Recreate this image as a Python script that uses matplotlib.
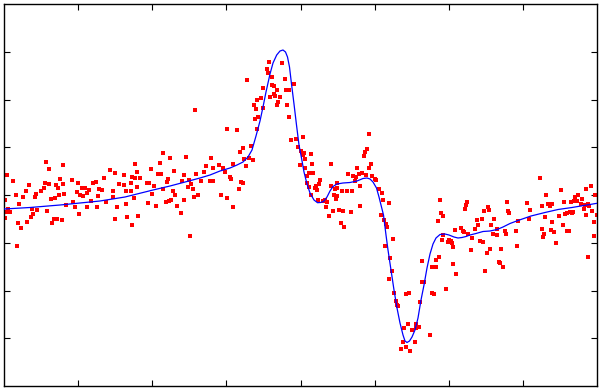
import numpy as np
import matplotlib
matplotlib.use("Agg")
import matplotlib.pyplot as plt

# scattered measurements (x, y)
pts_x = [42, 59, 3, 45, 9, 106, 111, 100, 56, 68, 41, 45, 25, 52, 59, 74, 89, 92, 115, 40, 54, 78, 81, 22, 37, 85, 95, 98,
         12, 32, 60, 55, 73, 76, 83, 79, 31, 19, 109, 94, 47, 51, 109, 1, 87, 102, 69, 15, 62, 71, 83, 93, 113, 4, 28, 33,
         43, 2, 6, 29, 75, 27, 1, 111, 50, 53, 58, 48, 14, 23, 17, 13,
         191, 223, 159, 166, 182, 207, 131, 156, 202, 215, 147, 170, 209, 219, 133, 120, 154, 157, 180, 192, 200, 221,
         128, 131, 136, 164, 178, 185, 197, 206, 209, 143, 145, 163, 127, 187, 120, 133, 150, 159, 184, 189, 122, 127,
         148, 169, 171, 194, 217, 190, 223, 130, 167, 165, 162, 180, 144, 122, 152, 173, 177, 123, 134, 128, 186,
         278, 265, 263, 264, 268, 243, 281, 268, 270, 259, 290, 273, 282, 285, 270, 271, 276, 257, 253, 266, 274, 250,
         273, 259, 252, 283, 285, 254, 251, 253, 233, 287, 292, 299, 247, 239, 294, 236, 297, 300, 299, 307, 245, 240,
         249, 301, 229, 308, 296, 242, 301, 305, 309, 303, 226, 227, 237, 239, 303, 315, 312, 305, 235, 311, 313, 307,
         314, 229,
         365, 363, 361, 360, 327, 367, 365, 353, 344, 349, 355, 358, 362, 368, 352, 316, 333, 371, 372, 351, 327, 356,
         331, 333, 375, 343, 338, 348, 378, 330, 333, 332, 321, 319, 323, 379, 385, 356, 322, 329, 335, 339, 347, 325,
         377, 380, 337, 340, 382, 383, 389, 381,
         386, 435, 432, 418, 428, 432, 388, 385, 418, 420, 390, 402, 405, 428, 430, 392, 416, 393, 394, 404, 400, 408,
         412, 414, 412, 415, 426, 399, 411, 402, 397, 406,
         436, 463, 462, 461, 484, 485, 437, 439, 480, 434, 473, 478, 490, 474, 487, 457, 459, 451, 471, 493, 460, 464,
         489, 493, 502, 439, 438, 445, 447, 444, 448, 476, 479, 468, 449, 467, 486, 497, 483, 449, 495, 496, 499, 452,
         481, 442,
         536, 587, 582, 557, 542, 591, 571, 574, 578, 503, 523, 544, 548, 538, 560, 567, 570, 573, 577, 581, 584, 585,
         546, 504, 505, 526, 563, 566, 568, 569, 580, 588, 561, 555, 582, 593, 525, 541, 514, 548, 590, 559, 538, 547,
         563, 565, 501, 512, 550, 540, 539, 590, 552, 513, 584]
pts_y = [33, 30, 20, 26, 14, 25, 22, 17, 16, 15, 12, 11, 10, 10, 11, 12, 12, 13, 11, 7, 7, 7, 7, 4, 4, 5, 6, 5,
         0, 1, 1, 0, 3, 0, 2, -1, -2, -2, 4, -1, -4, -3, -2, -5, -6, -7, -7, -9, -10, -12, -12, -12, -12, -14, -14, -15,
         -16, -17, -17, -19, -19, -22, -23, -24, -24, -24, -25, -28, -28, -27, -33, -51,
         85, 66, 42, 37, 38, 37, 31, 32, 29, 30, 26, 24, 27, 27, 23, 20, 21, 21, 20, 21, 23, 23,
         18, 17, 17, 16, 14, 15, 14, 14, 14, 12, 12, 13, 12, 11, 10, 8, 9, 6, 8, 6, 4, 4,
         1, 4, 0, 0, 0, -2, -3, -3, -5, -6, -7, -5, -8, -9, -11, -11, -18, -22, -21, -30, -41,
         132, 133, 126, 122, 118, 115, 116, 110, 109, 107, 111, 105, 105, 105, 101, 99, 98, 97, 95, 98, 93, 90,
         90, 87, 86, 90, 78, 78, 76, 66, 65, 55, 56, 58, 49, 47, 48, 43, 44, 42, 40, 41, 37, 36,
         35, 36, 31, 31, 30, 29, 27, 22, 22, 19, 18, 16, 13, 12, 12, 11, 9, 8, 6, 7, 5, 0,
         -5, -12,
         61, 46, 43, 39, 31, 31, 27, 27, 21, 19, 21, 22, 20, 19, 18, 15, 12, 16, 15, 14, 9, 9,
         6, 7, 6, 4, 4, 4, 2, 0, -1, -4, -5, -6, -7, -5, -8, -11, -12, -16, -15, -16, -17, -21,
         -20, -25, -28, -32, -29, -32, -44, -51,
         -63, -62, -65, -66, -72, -72, -76, -84, -87, -87, -98, -99, -98, -98, -99, -106, -107, -110, -111, -129, -133, -135,
         -129, -132, -133, -132, -140, -147, -147, -152, -154, -156,
         -5, -7, -10, -14, -12, -15, -18, -21, -16, -26, -25, -24, -24, -30, -30, -33, -36, -35, -34, -34, -37, -39,
         -39, -40, -39, -40, -45, -45, -46, -47, -48, -46, -47, -43, -52, -55, -54, -54, -58, -69, -67, -68, -72, -79,
         -76, -94,
         17, 9, 6, 5, 0, 0, -2, 0, -4, -7, -8, -9, -9, -11, -7, -7, -6, -6, -9, -10, -9, -11,
         -11, -16, -18, -15, -18, -17, -18, -17, -14, -16, -19, -21, -20, -20, -24, -22, -26, -27, -27, -30, -34, -35,
         -36, -36, -36, -36, -37, -39, -42, -41, -48, -51, -62]

# fitted curve
fit_x = [0, 26, 56, 96, 121, 149, 166, 183, 196, 206, 216, 226, 233, 239, 244, 248, 252, 256, 259, 262, 266, 269,
         272.7, 276, 279, 281.5, 283.5, 285.5, 287.5, 290, 292.5, 295, 297.5, 300, 303, 306, 310, 313.5, 316.5, 319.5,
         323, 326, 329, 333, 339, 346, 353, 359, 363, 366, 369, 372.5, 375, 377, 379.5, 382, 384, 387, 390, 393, 396,
         399, 401, 403, 405.5, 408, 411, 414, 417, 420, 423, 426, 429, 432, 436, 441, 445, 450, 454, 458, 462, 466, 472,
         479, 486, 493, 499, 506, 514, 527, 541, 554, 568, 581, 593]
fit_y = [-14, -12.5, -10, -6, -2, 5, 9, 13.5, 17, 20, 24, 27, 30, 33, 38, 45, 59, 74, 88, 103, 121, 132,
         140, 144, 145, 143, 138, 128, 111, 91, 70, 50, 37, 23, 11, 2, -5, -7.7, -7.5, -6.5,
         -2, 4, 8.5, 11, 12, 12.5, 14, 16.5, 17, 16, 13, 7, -2, -10, -20, -40, -55, -75, -95, -113, -128,
         -140, -146, -147.5, -146, -142, -135, -123, -105, -90, -73, -59, -49, -43, -39.5, -39, -40, -42, -43, -42.5, -41.5, -40, -38.5,
         -36.5, -36, -34.5, -32, -28.5, -25.5, -21, -17.5, -14.5, -12.5, -10.3, -8.3]

x_min, x_max = 0, 593
y_min, y_max = -191, 191

fig = plt.figure(figsize=(6.0, 3.9), dpi=100)
ax = fig.add_axes([4 / 600, 4 / 390, 593 / 600, 382 / 390])

ax.scatter(pts_x, pts_y, s=7, marker='s', color='#ff0000', linewidths=0, zorder=2)
ax.plot(fit_x, fit_y, color='#0000ff', lw=0.9, zorder=3)

ax.set_xlim(x_min, x_max)
ax.set_ylim(y_min, y_max)
ax.set_xticks(np.linspace(x_min, x_max, 9)[1:-1])
ax.set_yticks(np.linspace(y_min, y_max, 9)[1:-1])
ax.tick_params(direction='in', length=4, width=0.8, top=True, right=True,
               labelbottom=False, labelleft=False, color='black')
for sp in ax.spines.values():
    sp.set_linewidth(1.0)
    sp.set_color('black')

fig.savefig('out.png', dpi=100)
